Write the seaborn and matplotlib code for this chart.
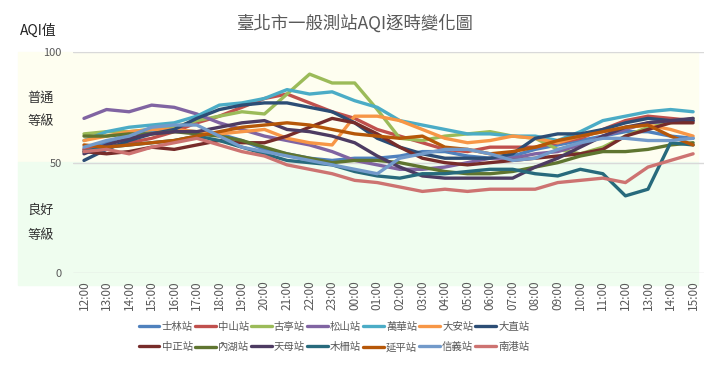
import numpy as np
import pandas as pd
import seaborn as sns
import matplotlib.pyplot as plt
from matplotlib.patches import Rectangle

# hourly AQI per station, 12:00 -> 15:00 next day
hours = ['12:00', '13:00', '14:00', '15:00', '16:00', '17:00', '18:00', '19:00',
         '20:00', '21:00', '22:00', '23:00', '00:00', '01:00', '02:00', '03:00',
         '04:00', '05:00', '06:00', '07:00', '08:00', '09:00', '10:00', '11:00',
         '12:00', '13:00', '14:00', '15:00']

shilin   = [56, 59, 63, 64, 65, 64, 63, 60, 56, 54, 52, 51, 52, 52, 53, 55, 55, 53, 52, 53, 56, 58, 60, 62, 64, 64, 62, 61]
zhongshan = [56, 57, 59, 61, 64, 68, 71, 75, 79, 81, 77, 73, 70, 65, 62, 59, 56, 55, 57, 57, 57, 59, 61, 65, 69, 71, 70, 69]
guting   = [63, 64, 64, 65, 66, 69, 71, 73, 72, 81, 90, 86, 86, 74, 61, 60, 62, 63, 64, 62, 61, 56, 54, 57, 62, 66, 68, 70]
songshan = [70, 74, 73, 76, 75, 72, 68, 65, 62, 60, 58, 55, 51, 49, 47, 47, 48, 50, 52, 52, 54, 55, 58, 62, 65, 68, 69, 69]
wanhua   = [60, 64, 66, 67, 68, 71, 76, 77, 79, 83, 81, 82, 78, 75, 69, 67, 65, 63, 63, 62, 62, 60, 64, 69, 71, 73, 74, 73]
daan     = [60, 62, 64, 65, 65, 64, 63, 64, 65, 61, 59, 58, 71, 71, 69, 65, 61, 59, 60, 62, 61, 59, 62, 64, 66, 67, 65, 62]
dazhi    = [51, 56, 60, 63, 65, 70, 74, 76, 77, 77, 75, 73, 68, 61, 57, 54, 52, 52, 52, 54, 61, 63, 63, 65, 68, 70, 69, 69]
zhongzheng = [55, 54, 55, 57, 56, 58, 60, 59, 59, 62, 66, 70, 68, 63, 57, 52, 50, 49, 50, 51, 52, 53, 54, 56, 62, 65, 68, 68]
neihu    = [62, 62, 63, 63, 64, 63, 62, 60, 57, 54, 52, 50, 51, 51, 50, 48, 46, 45, 45, 46, 48, 50, 53, 55, 55, 56, 58, 59]
tianmu   = [54, 58, 61, 63, 64, 64, 66, 68, 69, 65, 64, 62, 59, 53, 48, 44, 43, 43, 43, 43, 48, 52, 57, 62, 66, 68, 69, 70]
muzha    = [55, 57, 58, 59, 60, 62, 60, 57, 54, 51, 50, 49, 46, 44, 43, 45, 45, 46, 47, 47, 45, 44, 47, 45, 35, 38, 59, 58]
yanping  = [58, 57, 58, 59, 60, 62, 64, 66, 67, 68, 67, 65, 63, 62, 61, 62, 57, 56, 54, 55, 57, 60, 62, 64, 66, 67, 62, 58]
xinyi    = [57, 60, 62, 66, 67, 67, 62, 57, 55, 53, 51, 49, 47, 45, 52, 54, 56, 56, 54, 51, 52, 56, 59, 61, 61, 60, 60, 61]
nangang  = [55, 56, 54, 57, 59, 61, 58, 55, 53, 49, 47, 45, 42, 41, 39, 37, 38, 37, 38, 38, 38, 41, 42, 43, 41, 48, 51, 54]

stations = ['士林站', '中山站', '古亭站', '松山站', '萬華站', '大安站', '大直站',
            '中正站', '內湖站', '天母站', '木柵站', '延平站', '信義站', '南港站']
series = [shilin, zhongshan, guting, songshan, wanhua, daan, dazhi,
          zhongzheng, neihu, tianmu, muzha, yanping, xinyi, nangang]
colors = ['#4F81BD', '#C0504D', '#9BBB59', '#8064A2', '#4BACC6', '#F79646', '#2C4D75',
          '#772C2A', '#5F7530', '#4D3B62', '#276A7C', '#B65708', '#729ACA', '#CD7371']

rows = []
for name, vals in zip(stations, series):
    for i, v in enumerate(vals):
        rows.append({'t': i, 'AQI': v, 'station': name})
df = pd.DataFrame(rows)

sns.set_style('white')
plt.rcParams['font.family'] = ['Noto Sans CJK TC', 'DejaVu Sans']

fig = plt.figure(figsize=(7.1, 3.67), dpi=100)
ax = fig.add_axes([0.1024, 0.2553, 0.8897, 0.603])
ax.set_facecolor('none')

# shaded bands for the two levels
fig.patches.append(Rectangle((18/710, 1-162/367), 680/710, 110/367, transform=fig.transFigure,
                             color='#fefef0', zorder=-10))
fig.patches.append(Rectangle((18/710, 1-285/367), 680/710, 123/367, transform=fig.transFigure,
                             color='#effdef', zorder=-10))

sns.lineplot(data=df, x='t', y='AQI', hue='station', hue_order=stations,
             palette=dict(zip(stations, colors)), linewidth=2.4, sort=False, ax=ax)

ax.set_xlim(-0.5, 27.5)
ax.set_ylim(0, 100)
ax.set_yticks([0, 50, 100])
for v in [0, 50, 100]:
    ax.axhline(v, color='#d9d9d9', lw=1, zorder=0)
ax.set_xticks(range(len(hours)))
ax.set_xticklabels(hours, rotation=90, fontsize=8.5, color='#595959')
ax.tick_params(axis='y', labelsize=8, labelcolor='#595959', length=0, pad=8)
ax.tick_params(axis='x', length=0, pad=5)
ax.set_xlabel('')
ax.set_ylabel('')
for s in ax.spines.values():
    s.set_visible(False)

fig.text(0.5, 1-23/367, '臺北市一般測站AQI逐時變化圖', ha='center', va='center',
         fontsize=12.5, color='#595959')
fig.text(20/710, 1-31/367, 'AQI值', ha='left', va='center', fontsize=10, color='#222222')
for txt, yy in [('普通', 98), ('等級', 122), ('良好', 210), ('等級', 235)]:
    fig.text(27/710, 1-yy/367, txt, ha='left', va='center', fontsize=9.5, color='#333333')

handles, labels = ax.get_legend_handles_labels()
ax.get_legend().remove()
order = []
for c in range(7):
    order += [c, c + 7]
fig.legend([handles[i] for i in order], [labels[i] for i in order], ncol=7,
           loc='center', bbox_to_anchor=(334/710, 1-337/367), frameon=False,
           fontsize=7.5, labelcolor='#595959', handlelength=2.0, handletextpad=0.2,
           columnspacing=0.2, labelspacing=1.0, borderpad=0)

fig.savefig('out.png', dpi=100)
